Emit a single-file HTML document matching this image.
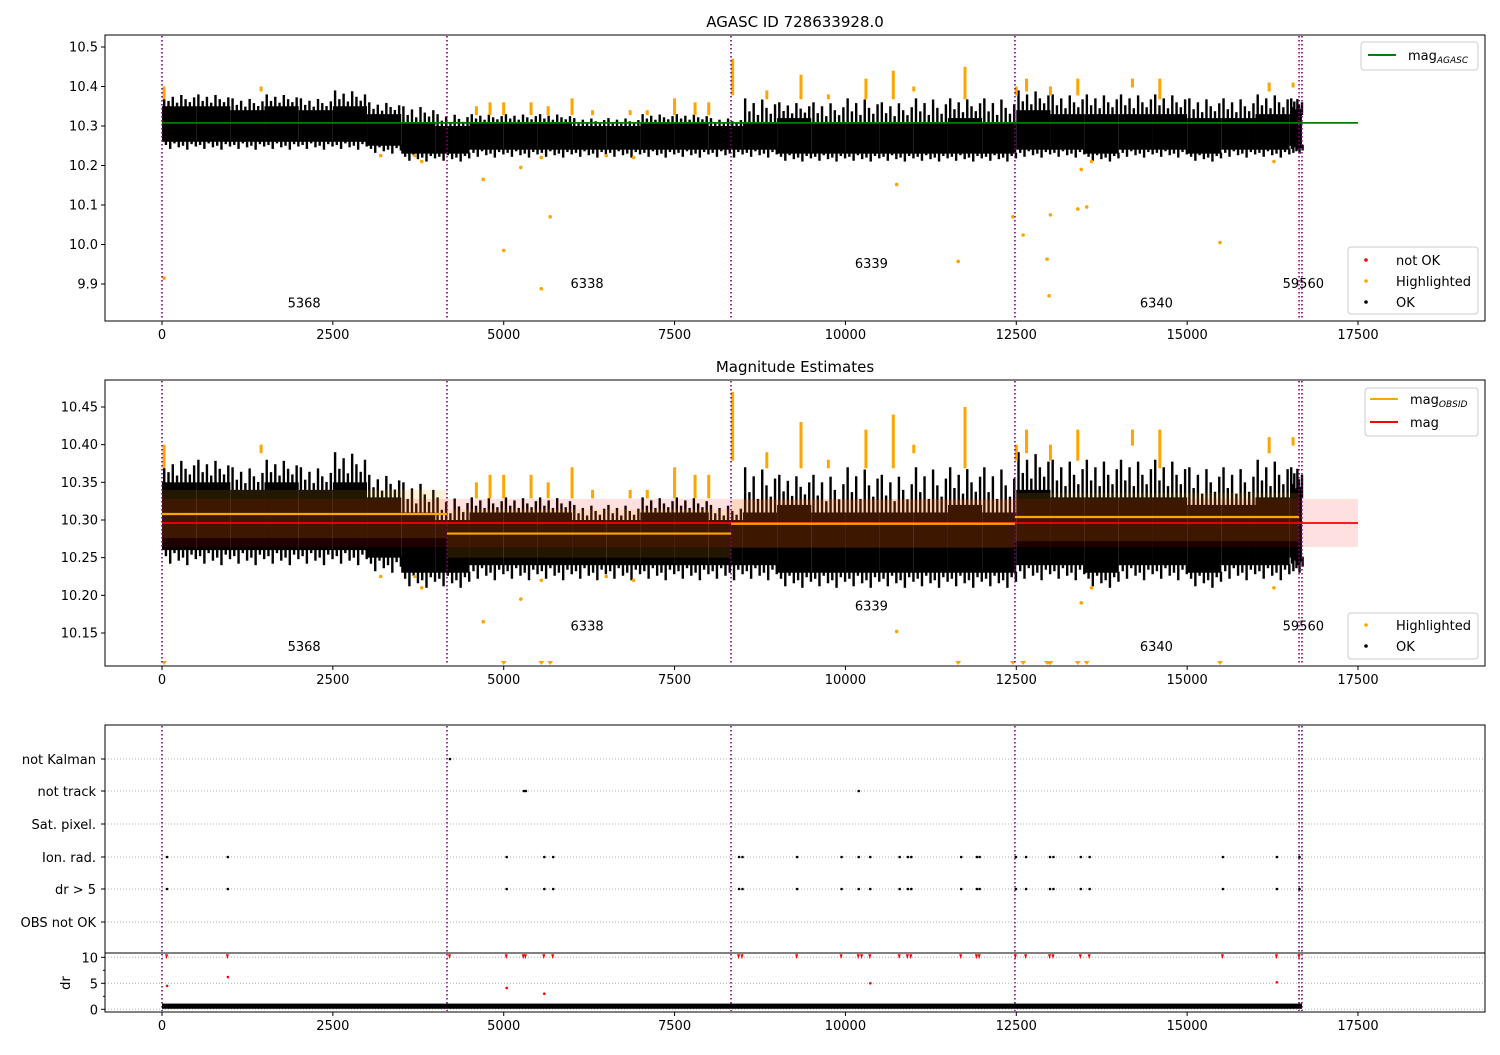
<!DOCTYPE html>
<html><head><meta charset="utf-8"><style>
body{margin:0;background:#fff}
svg{font-family:"DejaVu Sans","Liberation Sans",sans-serif;font-size:13px}
</style></head><body>
<svg id="c" width="1500" height="1050" xmlns="http://www.w3.org/2000/svg"></svg>
<script>
// ---- data ----
const binStart=[0,500,1000,1500,2000,2500,3000,3500,4000,4500,5000,5500,6000,6500,7000,7500,8000,8500,9000,9500,10000,10500,11000,11500,12000,12500,13000,13500,14000,14500,15000,15500,16000,16500];
const binLo=[10.26,10.26,10.26,10.26,10.26,10.26,10.25,10.23,10.23,10.24,10.24,10.24,10.24,10.24,10.24,10.24,10.24,10.24,10.23,10.23,10.23,10.23,10.23,10.23,10.23,10.24,10.24,10.23,10.24,10.24,10.23,10.24,10.24,10.25];
const binHi=[10.35,10.35,10.34,10.35,10.34,10.35,10.33,10.31,10.30,10.31,10.31,10.31,10.30,10.30,10.31,10.31,10.30,10.31,10.32,10.31,10.31,10.31,10.31,10.32,10.31,10.34,10.33,10.33,10.33,10.33,10.32,10.32,10.33,10.33];
const binPeak=[10.38,10.38,10.37,10.38,10.37,10.39,10.36,10.35,10.33,10.33,10.33,10.33,10.32,10.32,10.33,10.33,10.32,10.37,10.36,10.36,10.37,10.36,10.37,10.37,10.37,10.39,10.38,10.38,10.38,10.38,10.37,10.37,10.38,10.37];
const dataEnd=16680;
const hlX=[30,1450,4600,4800,5000,5400,5650,6000,6300,6850,7100,7500,7800,8000,8350,8850,9350,9750,10300,10700,11000,11750,12500,12650,13000,13400,14200,14600,16200,16550];
const hlLo=[10.37,10.39,10.33,10.33,10.33,10.33,10.33,10.33,10.33,10.33,10.33,10.33,10.33,10.33,10.38,10.37,10.37,10.37,10.37,10.37,10.39,10.37,10.38,10.39,10.38,10.38,10.40,10.37,10.39,10.40];
const hlHi=[10.40,10.40,10.35,10.36,10.36,10.36,10.35,10.37,10.34,10.34,10.34,10.37,10.36,10.36,10.47,10.39,10.43,10.38,10.42,10.44,10.40,10.45,10.40,10.42,10.40,10.42,10.42,10.42,10.41,10.41];
const outX=[30,3200,3700,3800,4700,5000,5250,5550,5550,5680,6500,6900,10750,11650,12450,12600,12950,12980,13000,13400,13450,13530,13600,15480,16270];
const outY=[9.915,10.225,10.225,10.21,10.165,9.985,10.195,9.888,10.22,10.07,10.225,10.22,10.152,9.957,10.07,10.024,9.963,9.87,10.075,10.09,10.19,10.095,10.21,10.005,10.21];
const obsBounds=[0,4170,8326,12480,16637,16680];
const obsNames=["5368","6338","6339","6340","59560"];
const obsLabelX=[2080,6220,10380,14550,16700];
const obsLabelY1=[9.84,9.89,9.94,9.84,9.89];
const obsLabelY2=[10.126,10.153,10.18,10.126,10.153];
const obsMean=[10.308,10.282,10.295,10.304];
const magAgasc=10.308, magAll=10.296, magLo=10.264, magHi=10.328;
const flagCats=["not Kalman","not track","Sat. pixel.","Ion. rad.","dr > 5","OBS not OK"];
const flagKalmanX=[4170];
const flagTrackX=[5250,5280,10150];
const flagIonX=[30,920,5000,5550,5680,8400,8450,9250,9900,10150,10320,10750,10870,10920,11650,11880,11920,12450,12600,12950,13000,13400,13530,15480,16270,16600];
const drRedX=[30,920,4170,5000,5250,5280,5550,5680,8400,8450,9250,9900,10150,10200,10320,10750,10870,10920,11650,11880,11920,12450,12600,12950,13000,13400,13530,15480,16270,16600];
const drLowX=[30,920,5000,5550,10320,16270];
const drLowY=[4.5,6.2,4.1,3.0,5.0,5.2];
const xTicks=[0,2500,5000,7500,10000,12500,15000,17500];
const y1Ticks=[9.9,10.0,10.1,10.2,10.3,10.4,10.5];
const y2Ticks=[10.15,10.20,10.25,10.30,10.35,10.40,10.45];
const drTicks=[0,5,10];

// ---- helpers ----
const S=document.getElementById('c');const NS='http://www.w3.org/2000/svg';
function el(t,a,p){const e=document.createElementNS(NS,t);for(const k in a)e.setAttribute(k,a[k]);(p||S).appendChild(e);return e;}
const L=105,R=1485;
const X=v=>162+v*(1196/17500);
const Y1=v=>47+(10.5-v)*395;
const Y2=v=>407+(10.45-v)*753.3;
const YD=v=>1009.3-v*5.2;
const catY=[759,791,824,857,889,922];
const upPat=[1,0.45,0.8,0.3,0.95,0.6,0.35,0.75];
const dnPat=[0.4,0.9,0.2,0.7,0.5,1,0.3,0.6];

function axesFrame(top,bot,name){
  const r=el('rect',{x:L,y:top,width:R-L,height:bot-top,fill:'none',stroke:'#000','stroke-width':1});
  
}
function xAxis(bot,name){
  const g=el('g',{});
  xTicks.forEach(t=>{el('line',{x1:X(t),x2:X(t),y1:bot,y2:bot+4,stroke:'#000'},g);
    const tx=el('text',{x:X(t),y:bot+18,'text-anchor':'middle'},g);tx.textContent=t;});
}
function yAxis(ticks,f,fmt,name){
  const g=el('g',{});
  ticks.forEach(t=>{el('line',{x1:L-4,x2:L,y1:f(t),y2:f(t),stroke:'#000'},g);
    const tx=el('text',{x:L-7,y:f(t)+4.5,'text-anchor':'end'},g);tx.textContent=t.toFixed(fmt);});
}
function vlines(top,bot){
  obsBounds.forEach(b=>{const l=el('line',{x1:X(b),x2:X(b),y1:top,y2:bot,stroke:'#800080','stroke-width':1.6,'stroke-dasharray':'1.5,2.5'});
    });
}
function cloud(f,top,bot){
  const g=el('g',{});
  binStart.forEach((s,i)=>{
    const e=Math.min(s+500,dataEnd);const w=X(e)-X(s);
    el('rect',{x:X(s),y:f(binHi[i]),width:w,height:f(binLo[i])-f(binHi[i]),fill:'#000'},g);
    for(let k=0;k<8;k++){const xx=X(s)+w*(0.03+0.125*k);
      const pk=binHi[i]+(binPeak[i]-binHi[i])*upPat[k];
      const yT=Math.max(top,f(pk));
      el('rect',{x:xx,y:yT,width:2.4,height:f(binHi[i])-yT+1,fill:'#000'},g);
      const dn=binLo[i]-0.02*dnPat[k];
      el('rect',{x:X(s)+w*(0.08+0.125*k),y:f(binLo[i])-1,width:2.4,height:f(dn)-f(binLo[i])+1,fill:'#000'},g);}
  });
}
function highlights(f,top,bot,tri){
  const g=el('g',{});
  hlX.forEach((x,i)=>{const y1=Math.max(top+2,f(hlHi[i]));el('rect',{x:X(x)-1.5,y:y1,width:3,height:f(hlLo[i])-y1+1,fill:'orange'},g);});
  outX.forEach((x,i)=>{const y=f(outY[i]);
    if(y<bot-2) el('circle',{cx:X(x),cy:y,r:1.8,fill:'orange'},g);
    else if(tri) el('path',{d:`M${X(x)-3},${bot-5}L${X(x)+3},${bot-5}L${X(x)},${bot-1}Z`,fill:'orange'},g);});
}
function obsLabels(ys,f){
  obsNames.forEach((n,i)=>{const t=el('text',{x:X(obsLabelX[i]),y:f(ys[i]),'text-anchor':'middle'});t.textContent=n;
    });
}
function title(txt,y,name){const t=el('text',{x:795,y:y,'text-anchor':'middle','font-size':15});t.textContent=txt;
  }
function legendBox(x,y,w,h,name){const g=el('g',{});
  el('rect',{x:x,y:y,width:w,height:h,rx:3,fill:'#fff','fill-opacity':0.8,stroke:'#ccc'},g);return g;}
function legLine(g,x,y,color,label,sub){el('line',{x1:x,x2:x+28,y1:y,y2:y,stroke:color,'stroke-width':2},g);
  const t=el('text',{x:x+40,y:y+5},g);t.textContent=label;
  if(sub){const s=el('tspan',{'font-size':9,'font-style':'italic',dy:3},t);s.textContent=sub;}}
function legDot(g,x,y,color,label){el('circle',{cx:x+14,cy:y,r:1.8,fill:color},g);const t=el('text',{x:x+44,y:y+5},g);t.textContent=label;}

// ---- panel 1 ----
title('AGASC ID 728633928.0',27,'top-title');
cloud(Y1,35,321);
highlights(Y1,35,321,false);
vlines(36,320);
const gl=el('line',{x1:X(0),x2:X(17500),y1:Y1(magAgasc),y2:Y1(magAgasc),stroke:'green','stroke-width':1.8});

obsLabels(obsLabelY1,Y1);
axesFrame(35,321,'top-axes');xAxis(321,'top-x-axis');yAxis(y1Ticks,Y1,1,'top-y-axis');
let g=legendBox(1361,42,117,28,'top-line-legend');legLine(g,1368,55,'green','mag','AGASC');
g=legendBox(1348,247,130,67,'top-point-legend');legDot(g,1352,260,'red','not OK');legDot(g,1352,281,'orange','Highlighted');legDot(g,1352,302,'#000','OK');

// ---- panel 2 ----
title('Magnitude Estimates',372,'middle-title');
cloud(Y2,380,666);
const band=el('rect',{x:X(0),y:Y2(magHi),width:X(17500)-X(0),height:Y2(magLo)-Y2(magHi),fill:'red','fill-opacity':0.12});

obsMean.forEach((m,i)=>{const b=el('rect',{x:X(obsBounds[i]),y:Y2(m+0.032),width:X(obsBounds[i+1])-X(obsBounds[i]),height:Y2(m-0.032)-Y2(m+0.032),fill:'orange','fill-opacity':0.14});
  });
highlights(Y2,380,666,true);
vlines(381,665);
const rl=el('line',{x1:X(0),x2:X(17500),y1:Y2(magAll),y2:Y2(magAll),stroke:'red','stroke-width':1.8});

obsMean.forEach((m,i)=>{const l=el('line',{x1:X(obsBounds[i]),x2:X(obsBounds[i+1]),y1:Y2(m),y2:Y2(m),stroke:'orange','stroke-width':2.2});
  });
obsLabels(obsLabelY2,Y2);
axesFrame(380,666,'middle-axes');xAxis(666,'middle-x-axis');yAxis(y2Ticks,Y2,2,'middle-y-axis');
g=legendBox(1365,388,113,48,'middle-line-legend');legLine(g,1370,399,'orange','mag','OBSID');legLine(g,1370,422,'red','mag');
g=legendBox(1348,613,130,46,'middle-point-legend');legDot(g,1352,625,'orange','Highlighted');legDot(g,1352,646,'#000','OK');

// ---- panel 3 flags ----
const fg=el('g',{});
flagCats.forEach((c,i)=>{el('line',{x1:L,x2:R,y1:catY[i],y2:catY[i],stroke:'#b0b0b0','stroke-dasharray':'1,2'},fg);
  el('line',{x1:L-4,x2:L,y1:catY[i],y2:catY[i],stroke:'#000'},fg);
  const t=el('text',{x:L-9,y:catY[i]+5,'text-anchor':'end'},fg);t.textContent=c;});
vlines(726,1011);
function flagPts(xs,row,name){const g=el('g',{});
  xs.forEach(x=>el('circle',{cx:X(x)+3,cy:catY[row],r:1.3,fill:'#000'},g));}
flagPts(flagKalmanX,0,'not-kalman-flags');flagPts(flagTrackX,1,'not-track-flags');
flagPts(flagIonX,3,'ion-rad-flags');flagPts(flagIonX,4,'dr-gt-5-flags');
el('rect',{x:L,y:725,width:R-L,height:228,fill:'none',stroke:'#000'},fg);
// dr
const dg=el('g',{});
drTicks.forEach(t=>{el('line',{x1:L,x2:R,y1:YD(t),y2:YD(t),stroke:'#b0b0b0','stroke-dasharray':'1,2'},dg);
  el('line',{x1:L-4,x2:L,y1:YD(t),y2:YD(t),stroke:'#000'},dg);
  const tx=el('text',{x:L-7,y:YD(t)+5,'text-anchor':'end'},dg);tx.textContent=t;});
[2.5,7.5].forEach(t=>el('line',{x1:L-2,x2:L,y1:YD(t),y2:YD(t),stroke:'#000'},dg));
const dl=el('rect',{x:X(0),y:YD(1.1),width:X(dataEnd)-X(0),height:YD(0.1)-YD(1.1),fill:'#000'});

const rg=el('g',{});
drRedX.forEach(x=>el('path',{d:`M${X(x)+1},${YD(10)-3}L${X(x)+4},${YD(10)-3}L${X(x)+2.5},${YD(10)+2}Z`,fill:'red'},rg));
drLowX.forEach((x,i)=>el('circle',{cx:X(x)+3,cy:YD(drLowY[i]),r:1.3,fill:'red'},rg));
el('rect',{x:L,y:953,width:R-L,height:59,fill:'none',stroke:'#000'},dg);
const dy=el('text',{x:70,y:983,'text-anchor':'middle',transform:'rotate(-90 70 983)'});dy.textContent='dr';

xAxis(1012,'bottom-x-axis');
</script>
</body></html>
